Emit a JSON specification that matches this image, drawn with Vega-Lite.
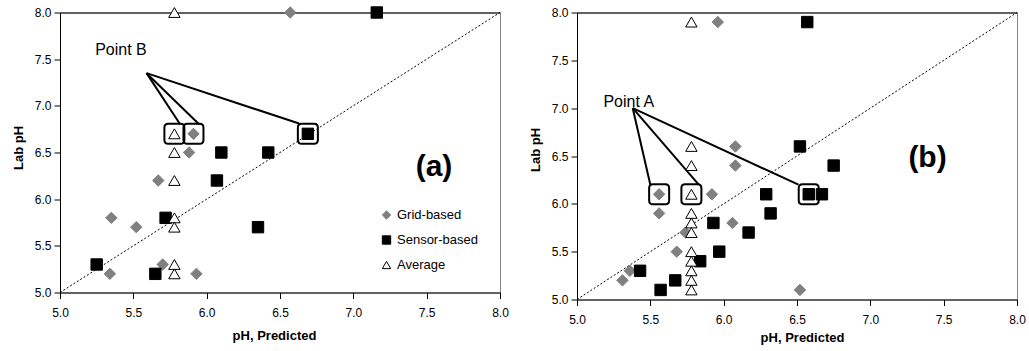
{
  "$schema": "https://vega.github.io/schema/vega-lite/v6.json",
  "padding": {"left": 11, "top": 3.5, "right": 0, "bottom": 0},
  "background": "#ffffff",
  "config": {
    "font": "Liberation Sans",
    "view": {"stroke": "#868686", "strokeWidth": 1},
    "axis": {"domainColor": "#000000", "domainWidth": 1, "tickColor": "#000000", "tickSize": 6, "grid": false, "labelFontSize": 12, "labelColor": "#000000", "titleFontSize": 13, "titleFontWeight": "bold", "titleColor": "#000000", "labelFont": "Liberation Sans", "titleFont": "Liberation Sans", "labelFlush": false, "labelOverlap": false},
    "axisX": {"labelPadding": 9},
    "axisY": {"labelPadding": 3, "titlePadding": 9},
    "concat": {"spacing": 19}
  },
  "datasets": {
    "diag": [{"x": 5, "y": 5, "x2": 8, "y2": 8}],
    "a_points": [
      {"series": "Grid-based", "x": 6.57, "y": 8.0},
      {"series": "Grid-based", "x": 5.91, "y": 6.7},
      {"series": "Grid-based", "x": 5.88, "y": 6.5},
      {"series": "Grid-based", "x": 5.67, "y": 6.2},
      {"series": "Grid-based", "x": 5.35, "y": 5.8},
      {"series": "Grid-based", "x": 5.52, "y": 5.7},
      {"series": "Grid-based", "x": 5.70, "y": 5.3},
      {"series": "Grid-based", "x": 5.34, "y": 5.2},
      {"series": "Grid-based", "x": 5.93, "y": 5.2},
      {"series": "Sensor-based", "x": 7.16, "y": 8.0},
      {"series": "Sensor-based", "x": 6.69, "y": 6.7},
      {"series": "Sensor-based", "x": 6.42, "y": 6.5},
      {"series": "Sensor-based", "x": 6.10, "y": 6.5},
      {"series": "Sensor-based", "x": 6.07, "y": 6.2},
      {"series": "Sensor-based", "x": 5.72, "y": 5.8},
      {"series": "Sensor-based", "x": 6.35, "y": 5.7},
      {"series": "Sensor-based", "x": 5.25, "y": 5.3},
      {"series": "Sensor-based", "x": 5.65, "y": 5.2},
      {"series": "Average", "x": 5.78, "y": 8.0},
      {"series": "Average", "x": 5.78, "y": 6.7},
      {"series": "Average", "x": 5.78, "y": 6.5},
      {"series": "Average", "x": 5.78, "y": 6.2},
      {"series": "Average", "x": 5.78, "y": 5.8},
      {"series": "Average", "x": 5.78, "y": 5.7},
      {"series": "Average", "x": 5.78, "y": 5.3},
      {"series": "Average", "x": 5.78, "y": 5.2}
    ],
    "a_box": [{"x": 5.78, "y": 6.7}, {"x": 5.91, "y": 6.7}, {"x": 6.69, "y": 6.7}],
    "a_callout": [
      {"x": 5.59, "y": 7.35, "x2": 5.82, "y2": 6.8},
      {"x": 5.59, "y": 7.35, "x2": 5.95, "y2": 6.8},
      {"x": 5.59, "y": 7.35, "x2": 6.63, "y2": 6.81}
    ],
    "a_label": [{"x": 5.24, "y": 7.6, "text": "Point B"}],
    "a_tag": [{"x": 7.55, "y": 6.35, "text": "(a)"}],
    "b_points": [
      {"series": "Grid-based", "x": 5.96, "y": 7.9},
      {"series": "Grid-based", "x": 6.08, "y": 6.6},
      {"series": "Grid-based", "x": 6.08, "y": 6.4},
      {"series": "Grid-based", "x": 5.56, "y": 6.1},
      {"series": "Grid-based", "x": 5.92, "y": 6.1},
      {"series": "Grid-based", "x": 5.56, "y": 5.9},
      {"series": "Grid-based", "x": 6.06, "y": 5.8},
      {"series": "Grid-based", "x": 5.74, "y": 5.7},
      {"series": "Grid-based", "x": 5.68, "y": 5.5},
      {"series": "Grid-based", "x": 5.36, "y": 5.3},
      {"series": "Grid-based", "x": 5.31, "y": 5.2},
      {"series": "Grid-based", "x": 6.52, "y": 5.1},
      {"series": "Sensor-based", "x": 6.57, "y": 7.9},
      {"series": "Sensor-based", "x": 6.52, "y": 6.6},
      {"series": "Sensor-based", "x": 6.75, "y": 6.4},
      {"series": "Sensor-based", "x": 6.58, "y": 6.1},
      {"series": "Sensor-based", "x": 6.67, "y": 6.1},
      {"series": "Sensor-based", "x": 6.29, "y": 6.1},
      {"series": "Sensor-based", "x": 6.32, "y": 5.9},
      {"series": "Sensor-based", "x": 5.93, "y": 5.8},
      {"series": "Sensor-based", "x": 6.17, "y": 5.7},
      {"series": "Sensor-based", "x": 5.97, "y": 5.5},
      {"series": "Sensor-based", "x": 5.84, "y": 5.4},
      {"series": "Sensor-based", "x": 5.43, "y": 5.3},
      {"series": "Sensor-based", "x": 5.67, "y": 5.2},
      {"series": "Sensor-based", "x": 5.57, "y": 5.1},
      {"series": "Average", "x": 5.78, "y": 7.9},
      {"series": "Average", "x": 5.78, "y": 6.6},
      {"series": "Average", "x": 5.78, "y": 6.4},
      {"series": "Average", "x": 5.78, "y": 6.1},
      {"series": "Average", "x": 5.78, "y": 5.9},
      {"series": "Average", "x": 5.78, "y": 5.8},
      {"series": "Average", "x": 5.78, "y": 5.7},
      {"series": "Average", "x": 5.78, "y": 5.5},
      {"series": "Average", "x": 5.78, "y": 5.4},
      {"series": "Average", "x": 5.78, "y": 5.3},
      {"series": "Average", "x": 5.78, "y": 5.2},
      {"series": "Average", "x": 5.78, "y": 5.1}
    ],
    "b_box": [{"x": 5.56, "y": 6.1}, {"x": 5.78, "y": 6.1}, {"x": 6.58, "y": 6.1}],
    "b_callout": [
      {"x": 5.38, "y": 7.0, "x2": 5.50, "y2": 6.2},
      {"x": 5.38, "y": 7.0, "x2": 5.83, "y2": 6.2},
      {"x": 5.38, "y": 7.0, "x2": 6.51, "y2": 6.2}
    ],
    "b_label": [{"x": 5.18, "y": 7.06, "text": "Point A"}],
    "b_tag": [{"x": 7.39, "y": 6.48, "text": "(b)"}]
  },
  "hconcat": [
    {
      "width": 440,
      "height": 280,
      "resolve": {"axis": {"x": "independent", "y": "independent"}},
      "layer": [
        {
          "data": {"name": "diag"},
          "mark": {"type": "rule", "strokeDash": [2, 2], "color": "#000000", "strokeWidth": 1},
          "encoding": {
            "x": {"field": "x", "type": "quantitative", "scale": {"domain": [5, 8], "nice": false, "zero": false}, "axis": {"orient": "bottom", "title": "pH, Predicted", "values": [5, 5.5, 6, 6.5, 7, 7.5, 8], "format": ".1f", "titleX": 214, "titlePadding": 11}},
            "y": {"field": "y", "type": "quantitative", "scale": {"domain": [5, 8], "nice": false, "zero": false}, "axis": {"orient": "left", "title": "Lab pH", "values": [5, 5.5, 6, 6.5, 7, 7.5, 8], "format": ".1f", "titleY": 135}},
            "x2": {"field": "x2"},
            "y2": {"field": "y2"}
          }
        },
        {
          "data": {"name": "a_callout"},
          "mark": {"type": "rule", "color": "#000000", "strokeWidth": 2},
          "encoding": {
            "x": {"field": "x", "type": "quantitative", "axis": {"orient": "top", "labels": false, "ticks": false, "title": null}},
            "y": {"field": "y", "type": "quantitative", "axis": null},
            "x2": {"field": "x2"},
            "y2": {"field": "y2"}
          }
        },
        {
          "data": {"name": "a_box"},
          "mark": {"type": "point", "shape": "M-0.62,-1H0.62Q1,-1 1,-0.62V0.62Q1,1 0.62,1H-0.62Q-1,1 -1,0.62V-0.62Q-1,-1 -0.62,-1Z", "size": 400, "filled": false, "stroke": "#000000", "strokeWidth": 2, "opacity": 1},
          "encoding": {
            "x": {"field": "x", "type": "quantitative", "axis": null},
            "y": {"field": "y", "type": "quantitative", "axis": null}
          }
        },
        {
          "data": {"name": "a_points"},
          "mark": {"type": "point", "filled": true, "strokeWidth": 1, "opacity": 1, "size": 130},
          "encoding": {
            "x": {"field": "x", "type": "quantitative", "axis": null},
            "y": {"field": "y", "type": "quantitative", "axis": null},
            "shape": {"field": "series", "type": "nominal", "scale": {"domain": ["Grid-based", "Sensor-based", "Average"], "range": ["diamond", "square", "triangle-up"]}, "legend": {"orient": "none", "legendX": 320, "legendY": 196, "title": null, "symbolSize": 70, "labelFontSize": 13, "labelOffset": 4, "rowPadding": 11, "padding": 0, "symbolStrokeWidth": 1, "labelColor": "#000000"}},
            "fill": {"field": "series", "type": "nominal", "scale": {"domain": ["Grid-based", "Sensor-based", "Average"], "range": ["#808080", "#000000", "#ffffff"]}, "legend": {"orient": "none", "legendX": 320, "legendY": 196, "title": null, "symbolSize": 70, "labelFontSize": 13, "labelOffset": 4, "rowPadding": 11, "padding": 0, "symbolStrokeWidth": 1, "labelColor": "#000000"}},
            "stroke": {"field": "series", "type": "nominal", "scale": {"domain": ["Grid-based", "Sensor-based", "Average"], "range": ["#808080", "#000000", "#000000"]}, "legend": {"orient": "none", "legendX": 320, "legendY": 196, "title": null, "symbolSize": 70, "labelFontSize": 13, "labelOffset": 4, "rowPadding": 11, "padding": 0, "symbolStrokeWidth": 1, "labelColor": "#000000"}}
          }
        },
        {
          "data": {"name": "a_label"},
          "mark": {"type": "text", "align": "left", "baseline": "middle", "fontSize": 16, "color": "#000000"},
          "encoding": {
            "x": {"field": "x", "type": "quantitative", "axis": null},
            "y": {"field": "y", "type": "quantitative", "axis": null},
            "text": {"field": "text"}
          }
        },
        {
          "data": {"name": "a_tag"},
          "mark": {"type": "text", "align": "center", "baseline": "middle", "fontSize": 30, "fontWeight": "bold", "color": "#000000"},
          "encoding": {
            "x": {"field": "x", "type": "quantitative", "axis": null},
            "y": {"field": "y", "type": "quantitative", "axis": null},
            "text": {"field": "text"}
          }
        }
      ]
    },
    {
      "width": 440,
      "height": 287,
      "resolve": {"axis": {"x": "independent", "y": "independent"}},
      "layer": [
        {
          "data": {"name": "diag"},
          "mark": {"type": "rule", "strokeDash": [2, 2], "color": "#000000", "strokeWidth": 1},
          "encoding": {
            "x": {"field": "x", "type": "quantitative", "scale": {"domain": [5, 8], "nice": false, "zero": false}, "axis": {"orient": "bottom", "title": "pH, Predicted", "values": [5, 5.5, 6, 6.5, 7, 7.5, 8], "format": ".1f", "titleX": 225, "titlePadding": 6}},
            "y": {"field": "y", "type": "quantitative", "scale": {"domain": [5, 8], "nice": false, "zero": false}, "axis": {"orient": "left", "title": "Lab pH", "values": [5, 5.5, 6, 6.5, 7, 7.5, 8], "format": ".1f", "titleY": 137}},
            "x2": {"field": "x2"},
            "y2": {"field": "y2"}
          }
        },
        {
          "data": {"name": "b_callout"},
          "mark": {"type": "rule", "color": "#000000", "strokeWidth": 2},
          "encoding": {
            "x": {"field": "x", "type": "quantitative", "axis": {"orient": "top", "labels": false, "ticks": false, "title": null}},
            "y": {"field": "y", "type": "quantitative", "axis": null},
            "x2": {"field": "x2"},
            "y2": {"field": "y2"}
          }
        },
        {
          "data": {"name": "b_box"},
          "mark": {"type": "point", "shape": "M-0.62,-1H0.62Q1,-1 1,-0.62V0.62Q1,1 0.62,1H-0.62Q-1,1 -1,0.62V-0.62Q-1,-1 -0.62,-1Z", "size": 400, "filled": false, "stroke": "#000000", "strokeWidth": 2, "opacity": 1},
          "encoding": {
            "x": {"field": "x", "type": "quantitative", "axis": null},
            "y": {"field": "y", "type": "quantitative", "axis": null}
          }
        },
        {
          "data": {"name": "b_points"},
          "mark": {"type": "point", "filled": true, "strokeWidth": 1, "opacity": 1, "size": 130},
          "encoding": {
            "x": {"field": "x", "type": "quantitative", "axis": null},
            "y": {"field": "y", "type": "quantitative", "axis": null},
            "shape": {"field": "series", "type": "nominal", "scale": {"domain": ["Grid-based", "Sensor-based", "Average"], "range": ["diamond", "square", "triangle-up"]}, "legend": {"orient": "none", "legendX": 301, "legendY": 187, "title": null, "symbolSize": 70, "labelFontSize": 13, "labelOffset": 4, "rowPadding": 10, "padding": 0, "symbolStrokeWidth": 1, "labelColor": "#000000"}},
            "fill": {"field": "series", "type": "nominal", "scale": {"domain": ["Grid-based", "Sensor-based", "Average"], "range": ["#808080", "#000000", "#ffffff"]}, "legend": {"orient": "none", "legendX": 301, "legendY": 187, "title": null, "symbolSize": 70, "labelFontSize": 13, "labelOffset": 4, "rowPadding": 10, "padding": 0, "symbolStrokeWidth": 1, "labelColor": "#000000"}},
            "stroke": {"field": "series", "type": "nominal", "scale": {"domain": ["Grid-based", "Sensor-based", "Average"], "range": ["#808080", "#000000", "#000000"]}, "legend": {"orient": "none", "legendX": 301, "legendY": 187, "title": null, "symbolSize": 70, "labelFontSize": 13, "labelOffset": 4, "rowPadding": 10, "padding": 0, "symbolStrokeWidth": 1, "labelColor": "#000000"}}
          }
        },
        {
          "data": {"name": "b_label"},
          "mark": {"type": "text", "align": "left", "baseline": "middle", "fontSize": 16, "color": "#000000"},
          "encoding": {
            "x": {"field": "x", "type": "quantitative", "axis": null},
            "y": {"field": "y", "type": "quantitative", "axis": null},
            "text": {"field": "text"}
          }
        },
        {
          "data": {"name": "b_tag"},
          "mark": {"type": "text", "align": "center", "baseline": "middle", "fontSize": 30, "fontWeight": "bold", "color": "#000000"},
          "encoding": {
            "x": {"field": "x", "type": "quantitative", "axis": null},
            "y": {"field": "y", "type": "quantitative", "axis": null},
            "text": {"field": "text"}
          }
        }
      ]
    }
  ]
}
